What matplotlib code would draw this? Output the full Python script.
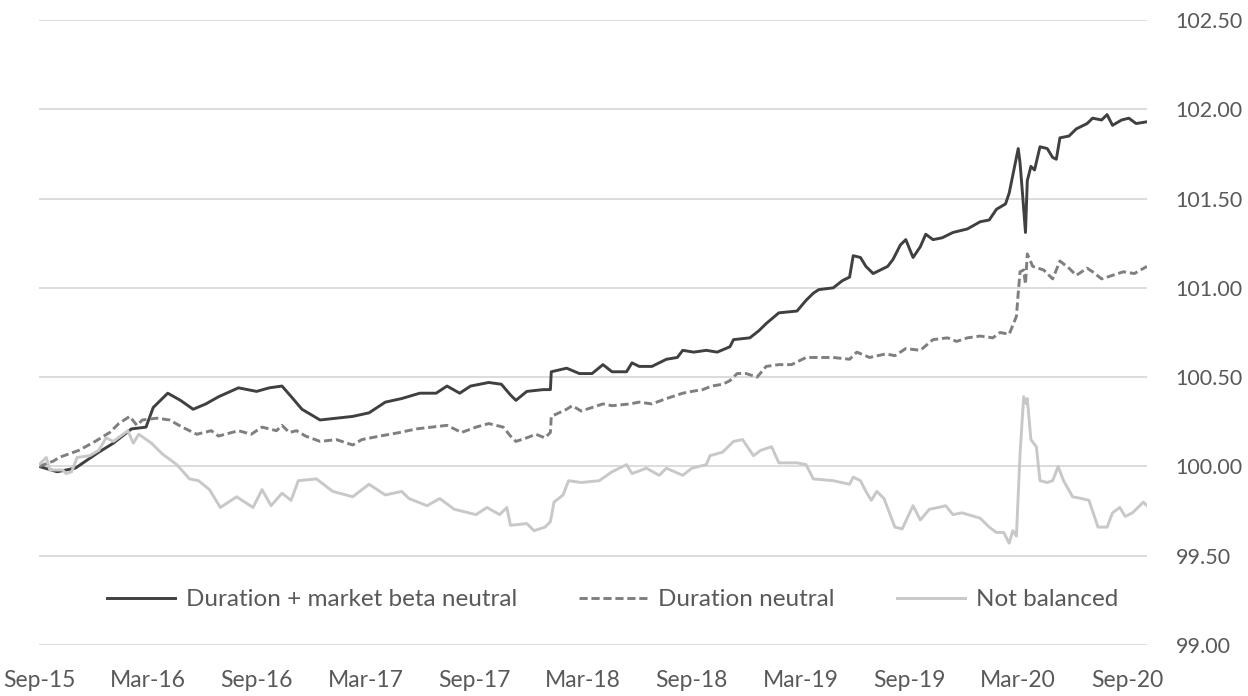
import matplotlib
matplotlib.use('Agg')
from matplotlib import pyplot as plt

plt.rcParams['font.family'] = ['Lato', 'DejaVu Sans']

# x positions are months since Sep-15
tick_labels = ['Sep-15', 'Mar-16', 'Sep-16', 'Mar-17', 'Sep-17', 'Mar-18',
               'Sep-18', 'Mar-19', 'Sep-19', 'Mar-20', 'Sep-20']
y_ticks = [99.0, 99.5, 100.0, 100.5, 101.0, 101.5, 102.0, 102.5]

beta_months = [0, 1, 2, 3.3, 4.1, 5.1, 5.9, 6.3, 7.1, 7.8, 8.5, 9.2, 9.9, 11, 12, 12.7,
               13.4, 14, 14.5, 15.5, 16.4, 17.3, 18.2, 19.1, 20, 21, 21.9, 22.5, 23.2,
               23.8, 24.8, 25.5, 26.0, 26.3, 26.9, 27.8, 28.2, 28.25, 29.1, 29.8, 30.5,
               31.1, 31.6, 32.4, 32.7, 33.1, 33.8, 34.6, 35.2, 35.5, 36.1, 36.8, 37.4,
               38.1, 38.3, 39.2, 39.7, 40.1, 40.8, 41.8, 42.3, 42.7, 43.0, 43.8, 44.3,
               44.7, 44.9, 45.3, 45.6, 46.0, 46.4, 46.8, 47.1, 47.5, 47.8, 48.2, 48.6,
               48.9, 49.3, 49.8, 50.4, 51.2, 51.9, 52.4, 52.8, 53.3, 53.5, 53.8, 54.0,
               54.1, 54.25, 54.4, 54.5, 54.7, 54.9, 55.2, 55.6, 55.9, 56.1, 56.3, 56.8,
               57.2, 57.8, 58.1, 58.6, 58.9, 59.2, 59.7, 60.1, 60.5, 61.1]
beta_values = [100.00, 99.97, 99.99, 100.08, 100.13, 100.21, 100.22, 100.33, 100.41, 100.37,
               100.32, 100.35, 100.39, 100.44, 100.42, 100.44, 100.45, 100.38, 100.32,
               100.26, 100.27, 100.28, 100.30, 100.36, 100.38, 100.41, 100.41, 100.45,
               100.41, 100.45, 100.47, 100.46, 100.40, 100.37, 100.42, 100.43, 100.43,
               100.53, 100.55, 100.52, 100.52, 100.57, 100.53, 100.53, 100.58, 100.56,
               100.56, 100.60, 100.61, 100.65, 100.64, 100.65, 100.64, 100.67, 100.71,
               100.72, 100.76, 100.80, 100.86, 100.87, 100.93, 100.97, 100.99, 101.00,
               101.04, 101.06, 101.18, 101.17, 101.12, 101.08, 101.10, 101.12, 101.16,
               101.24, 101.27, 101.17, 101.23, 101.30, 101.27, 101.28, 101.31, 101.33,
               101.37, 101.38, 101.44, 101.47, 101.53, 101.68, 101.78, 101.70, 101.51,
               101.31, 101.60, 101.68, 101.66, 101.79, 101.78, 101.73, 101.72, 101.84,
               101.85, 101.89, 101.92, 101.95, 101.94, 101.97, 101.91, 101.94, 101.95,
               101.92, 101.93]

dur_months = [0, 0.8, 1.1, 2.2, 3.1, 3.9, 4.4, 5.0, 5.4, 5.7, 6.5, 7.2, 7.9, 8.7, 9.5, 9.9,
              11.0, 11.7, 12.3, 13.1, 13.4, 13.8, 14.2, 14.7, 15.5, 16.4, 17.3, 17.8, 18.8,
              19.9, 20.8, 22.5, 23.3, 24.1, 24.8, 25.6, 26.0, 26.3, 26.9, 27.4, 27.9, 28.2,
              28.25, 29.1, 29.4, 29.9, 30.5, 31.1, 31.6, 32.6, 33.1, 33.8, 34.6, 35.5, 36.0,
              36.6, 37.1, 37.7, 38.1, 38.5, 39.0, 39.6, 40.1, 40.8, 41.5, 42.3, 43.0, 43.8,
              44.7, 45.1, 45.8, 46.7, 47.2, 47.8, 48.6, 49.3, 50.1, 50.6, 51.2, 51.9, 52.6,
              53.0, 53.5, 53.9, 54.0, 54.1, 54.3, 54.4, 54.5, 54.8, 55.4, 55.9, 56.3, 56.8,
              57.2, 57.8, 58.1, 58.6, 59.2, 59.8, 60.4, 61.1]
dur_values = [100.00, 100.03, 100.05, 100.09, 100.14, 100.19, 100.24, 100.28, 100.23, 100.26,
              100.27, 100.26, 100.22, 100.18, 100.20, 100.17, 100.20, 100.18, 100.22, 100.20,
              100.23, 100.19, 100.20, 100.17, 100.14, 100.15, 100.12, 100.15, 100.17, 100.19,
              100.21, 100.23, 100.19, 100.22, 100.24, 100.22, 100.17, 100.14, 100.16, 100.18,
              100.16, 100.19, 100.28, 100.32, 100.34, 100.31, 100.33, 100.35, 100.34, 100.35,
              100.36, 100.35, 100.38, 100.41, 100.42, 100.43, 100.45, 100.46, 100.48, 100.52,
              100.52, 100.50, 100.56, 100.57, 100.57, 100.61, 100.61, 100.61, 100.60, 100.64,
              100.61, 100.63, 100.62, 100.66, 100.65, 100.71, 100.72, 100.70, 100.72, 100.73,
              100.72, 100.75, 100.74, 100.84, 100.97, 101.09, 101.10, 101.02, 101.19, 101.12,
              101.10, 101.05, 101.15, 101.11, 101.07, 101.11, 101.09, 101.05, 101.07, 101.09,
              101.08, 101.12]

nb_months = [0, 0.4, 0.6, 1.3, 1.5, 1.8, 2.1, 2.8, 3.3, 3.7, 4.1, 4.9, 5.2, 5.5, 6.2, 6.8,
             7.6, 8.3, 8.8, 9.4, 10.0, 10.9, 11.8, 12.3, 12.8, 13.4, 13.9, 14.3, 15.3, 16.2,
             17.3, 18.2, 19.1, 20.0, 20.4, 21.4, 22.1, 22.9, 24.1, 24.7, 25.4, 25.8, 26.0,
             26.9, 27.3, 27.9, 28.2, 28.4, 28.9, 29.2, 29.9, 30.9, 31.6, 32.4, 32.7, 33.5,
             34.2, 34.6, 35.5, 36.0, 36.8, 37.0, 37.7, 38.3, 38.8, 39.4, 39.8, 40.4, 40.8,
             41.8, 42.3, 42.7, 43.8, 44.7, 44.9, 45.3, 45.6, 45.9, 46.2, 46.6, 46.9, 47.2,
             47.6, 48.2, 48.6, 49.1, 49.6, 50.0, 50.4, 50.9, 51.9, 52.4, 52.8, 53.2, 53.5,
             53.7, 53.9, 54.1, 54.3, 54.45, 54.5, 54.7, 55.0, 55.2, 55.6, 55.9, 56.2, 56.5,
             57.0, 57.5, 57.9, 58.4, 58.9, 59.2, 59.6, 59.9, 60.3, 60.9, 61.1]
nb_values = [100.01, 100.05, 99.98, 99.98, 99.96, 99.97, 100.05, 100.06, 100.09, 100.16,
             100.14, 100.20, 100.13, 100.18, 100.13, 100.07, 100.01, 99.93, 99.92, 99.87,
             99.77, 99.83, 99.77, 99.87, 99.78, 99.85, 99.81, 99.92, 99.93, 99.86, 99.83,
             99.90, 99.84, 99.86, 99.82, 99.78, 99.82, 99.76, 99.73, 99.77, 99.73, 99.77,
             99.67, 99.68, 99.64, 99.66, 99.69, 99.80, 99.84, 99.92, 99.91, 99.92, 99.97,
             100.01, 99.96, 99.99, 99.95, 99.99, 99.95, 99.99, 100.01, 100.06, 100.08,
             100.14, 100.15, 100.06, 100.09, 100.11, 100.02, 100.02, 100.01, 99.93, 99.92,
             99.90, 99.94, 99.92, 99.86, 99.81, 99.86, 99.82, 99.74, 99.66, 99.65, 99.78,
             99.70, 99.76, 99.77, 99.78, 99.73, 99.74, 99.71, 99.66, 99.63, 99.63, 99.57,
             99.64, 99.61, 100.07, 100.39, 100.35, 100.38, 100.15, 100.11, 99.92, 99.91,
             99.92, 100.00, 99.92, 99.83, 99.82, 99.81, 99.66, 99.66, 99.74, 99.77, 99.72,
             99.74, 99.80, 99.78]

fig = plt.figure(figsize=(12.48, 6.96), dpi=100)
ax = fig.add_axes([0.03125, 0.0733, 0.8878, 0.898])

ax.plot(beta_months, beta_values, color='#404040', lw=2.1,
        label='Duration + market beta neutral')
ax.plot(dur_months, dur_values, color='#7f7f7f', lw=2.1, linestyle=(0, (2.8, 1.3)),
        label='Duration neutral')
ax.plot(nb_months, nb_values, color='#c8c8c8', lw=2.1, label='Not balanced')

ax.set_xlim(0, 61.1)
ax.set_ylim(99.0, 102.5)
ax.set_xticks(range(0, 61, 6))
ax.set_xticklabels(tick_labels)
ax.set_yticks(y_ticks)
ax.set_yticklabels(['%.2f' % v for v in y_ticks])
ax.yaxis.tick_right()
ax.grid(axis='y', color='#d9d9d9', lw=1.3)
ax.set_axisbelow(True)
for s in ax.spines.values():
    s.set_visible(False)
ax.tick_params(axis='both', length=0, labelcolor='#595959')
ax.tick_params(axis='y', pad=20.5, labelsize=15.5)
ax.tick_params(axis='x', pad=18, labelsize=16.5)

leg = ax.legend(loc='center', bbox_to_anchor=(0.5176, 0.072), ncol=3, frameon=False,
                fontsize=17.5, handlelength=2.8, handletextpad=0.45, columnspacing=2.55,
                borderaxespad=0, borderpad=0)
for t in leg.get_texts():
    t.set_color('#595959')

plt.savefig('out.png', dpi=100)
